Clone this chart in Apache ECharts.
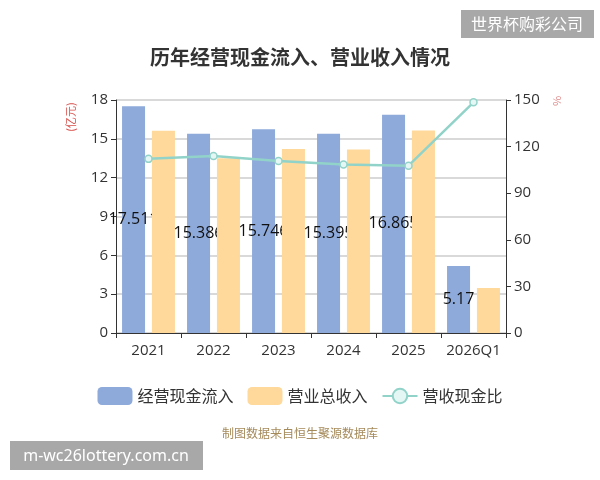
<!DOCTYPE html>
<html>
<head>
<meta charset="utf-8">
<script src="https://cdn.jsdelivr.net/npm/echarts@6/dist/echarts.min.js"></script>
<style>
html,body{margin:0;padding:0;background:#fff;}
#main{width:600px;height:480px;}
</style>
</head>
<body>
<div id="main"></div>
<script>
var categories = ['2021', '2022', '2023', '2024', '2025', '2026Q1'];
var cashInflow = [17.511, 15.386, 15.746, 15.395, 16.865, 5.17];
var revenue = [15.62, 13.5, 14.21, 14.18, 15.65, 3.48];
var cashRatio = [112.1, 113.9, 110.8, 108.5, 107.7, 148.5];
var leftTicks = { min: 0, max: 18, interval: 3 };
var rightTicks = { min: 0, max: 150, interval: 30 };

var FONT = '"Open Sans", "Noto Sans CJK SC", sans-serif';
var CJK = '"Noto Sans CJK SC", sans-serif';
var chart = echarts.init(document.getElementById('main'), null, { renderer: 'canvas' });
chart.setOption({
  backgroundColor: '#fff',
  animation: false,
  textStyle: { fontFamily: FONT },
  title: {
    text: '历年经营现金流入、营业收入情况',
    left: 'center',
    top: 42,
    textStyle: { fontSize: 20, fontWeight: 'bold', color: '#333', fontFamily: CJK }
  },
  legend: {
    bottom: 70,
    left: 'center',
    itemWidth: 35,
    itemHeight: 18,
    itemGap: 14,
    textStyle: { fontSize: 16, color: '#333', fontFamily: CJK },
    data: [
      { name: '经营现金流入', icon: 'roundRect' },
      { name: '营业总收入', icon: 'roundRect' },
      { name: '营收现金比' }
    ]
  },
  grid: { left: 116, right: 94, top: 100, bottom: 147 },
  xAxis: {
    type: 'category',
    data: categories,
    axisLine: { lineStyle: { color: '#333' } },
    axisTick: { show: true, length: 5, lineStyle: { color: '#333' } },
    axisLabel: { fontSize: 15, color: '#333', margin: 10, interval: 0 }
  },
  yAxis: [
    {
      type: 'value',
      min: leftTicks.min, max: leftTicks.max, interval: leftTicks.interval,
      axisLine: { show: true, lineStyle: { color: '#333' } },
      axisTick: { show: true, length: 5, lineStyle: { color: '#333' } },
      axisLabel: { fontSize: 15, color: '#333', margin: 8 },
      splitLine: { lineStyle: { color: '#ccc', width: 1.5 } }
    },
    {
      type: 'value',
      min: rightTicks.min, max: rightTicks.max, interval: rightTicks.interval,
      axisLine: { show: true, lineStyle: { color: '#333' } },
      axisTick: { show: true, length: 5, lineStyle: { color: '#333' } },
      axisLabel: { fontSize: 15, color: '#333', margin: 8 },
      splitLine: { show: false }
    }
  ],
  series: [
    {
      name: '经营现金流入',
      type: 'bar',
      yAxisIndex: 0,
      z: 2,
      barWidth: 23,
      barGap: '30%',
      itemStyle: { color: '#8eaadb' },
      label: { show: true, position: 'inside', fontSize: 16, color: '#111', fontFamily: FONT },
      data: cashInflow
    },
    {
      name: '营业总收入',
      type: 'bar',
      yAxisIndex: 0,
      z: 3,
      barWidth: 23,
      barGap: '30%',
      itemStyle: { color: '#fed99b' },
      data: revenue
    },
    {
      name: '营收现金比',
      type: 'line',
      yAxisIndex: 1,
      z: 5,
      symbol: 'circle',
      symbolSize: 7,
      lineStyle: { color: '#92d3c9', width: 2.5 },
      itemStyle: { color: '#e4f7f4', borderColor: '#92d3c9', borderWidth: 1.5 },
      data: cashRatio
    }
  ],
  graphic: [
    {
      type: 'text', x: 71, y: 117, rotation: Math.PI / 2,
      style: { text: '(亿元)', fill: '#d9534f', font: '11px "Noto Sans CJK SC", sans-serif', textAlign: 'center', textVerticalAlign: 'middle' }
    },
    {
      type: 'text', x: 557, y: 101, rotation: Math.PI / 2,
      style: { text: '%', fill: '#e08a8a', font: '11px "Noto Sans CJK SC", sans-serif', textAlign: 'center', textVerticalAlign: 'middle' }
    },
    {
      type: 'text', x: 300, y: 433,
      style: { text: '制图数据来自恒生聚源数据库', fill: '#a58a5a', font: '12px "Noto Sans CJK SC", sans-serif', textAlign: 'center', textVerticalAlign: 'middle' }
    },
    {
      type: 'rect', shape: { x: 461, y: 10, width: 133, height: 28 },
      style: { fill: '#a8a8a8' }
    },
    {
      type: 'text', x: 527, y: 24,
      style: { text: '世界杯购彩公司', fill: '#fff', font: '16px "Noto Sans CJK SC", sans-serif', textAlign: 'center', textVerticalAlign: 'middle' }
    },
    {
      type: 'rect', shape: { x: 10, y: 441, width: 193, height: 29 },
      style: { fill: '#a8a8a8' }
    },
    {
      type: 'text', x: 106, y: 456,
      style: { text: 'm-wc26lottery.com.cn', fill: '#fff', font: '16px "Noto Sans", sans-serif', textAlign: 'center', textVerticalAlign: 'middle' }
    }
  ]
});
</script>
</body>
</html>
